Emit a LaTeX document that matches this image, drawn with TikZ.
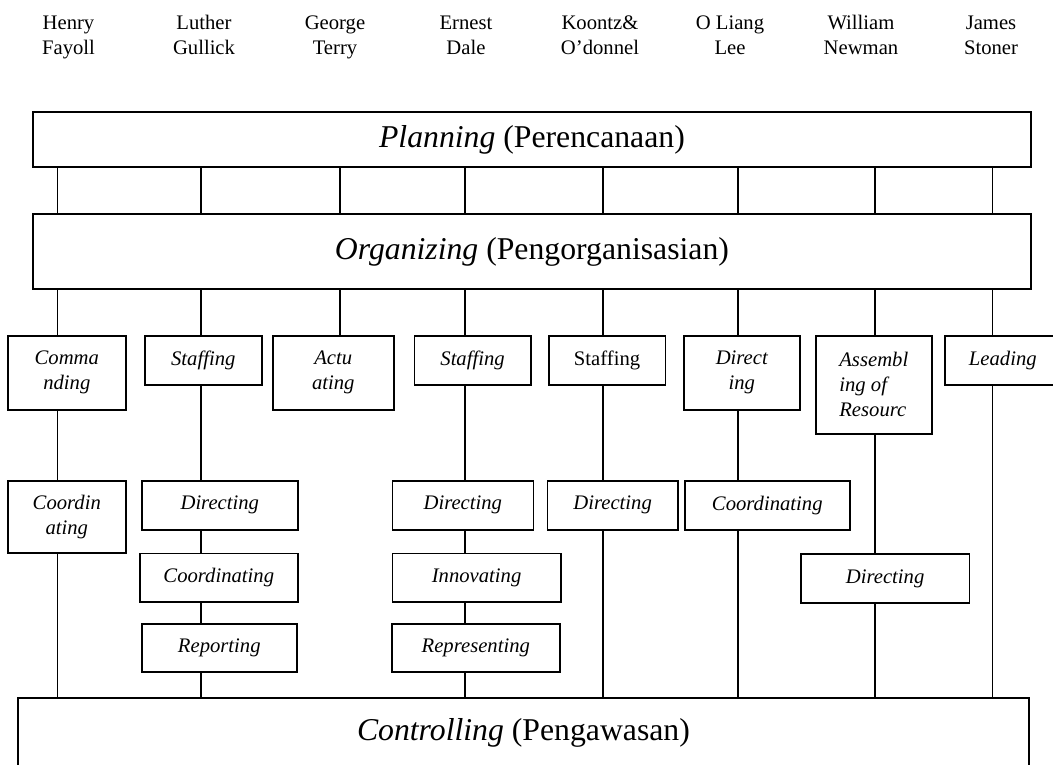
\documentclass[tikz,border=0pt]{standalone}
\usepackage{fontspec}
\setmainfont{Liberation Serif}
\usetikzlibrary{positioning}
\tikzstyle{author} = [align=center, inner sep=0pt, font=\fontsize{15.5}{18.75}\selectfont]
\tikzstyle{phase} = [rectangle, draw, line width=1.4pt, inner sep=0pt, font=\fontsize{23.8}{28}\selectfont]
\tikzstyle{task} = [rectangle, draw, line width=1.2pt, inner sep=0pt, align=center, font=\fontsize{15.5}{18.75}\selectfont\itshape]
\tikzstyle{line} = [draw, line width=1pt]

\begin{document}
\begin{tikzpicture}[x=0.75pt, y=-0.75pt]
        \clip (0,0) rectangle (1053,764);
        % Place authors
        \node at (68.5,54) [author, anchor=base] (fayol) {Henry\\Fayoll};
        \node at (204,54) [author, anchor=base] (gulick) {Luther\\Gullick};
        \node at (335,54) [author, anchor=base] (terry) {George\\Terry};
        \node at (466,54) [author, anchor=base] (dale) {Ernest\\Dale};
        \node at (600,54) [author, anchor=base] (koontz) {Koontz\&\\O'donnel};
        \node at (730,54) [author, anchor=base] (lee) {O Liang\\Lee};
        \node at (861,54) [author, anchor=base] (newman) {William\\Newman};
        \node at (991,54) [author, anchor=base] (stoner) {James\\Stoner};

        % Place main functions
        \node at (32,111) [phase, anchor=north west, minimum width=748.5pt, minimum height=41.25pt] (plan) {\textit{Planning} (Perencanaan)};
        \node at (32,213) [phase, anchor=north west, minimum width=748.5pt, minimum height=56.25pt] (org) {\textit{Organizing} (Pengorganisasian)};
        \node at (17,697) [phase, anchor=north west, minimum width=758.25pt, text height=32.25pt, text depth=24pt] (ctrl) {\textit{Controlling} (Pengawasan)};

        % Columns
        \coordinate (c1) at (57.5,0);
        \coordinate (c2) at (201,0);
        \coordinate (c3) at (340,0);
        \coordinate (c4) at (465,0);
        \coordinate (c5) at (603,0);
        \coordinate (c6) at (738,0);
        \coordinate (c7) at (875,0);
        \coordinate (c8) at (992.5,0);

        % Place tasks
        \node at (7,335) [task, anchor=north west, minimum width=88.5pt, minimum height=55.5pt] (cmd) {Comma\\nding};
        \node at (144,335) [task, anchor=north west, minimum width=87.75pt, minimum height=36.75pt] (stf1) {Staffing};
        \node at (272,335) [task, anchor=north west, minimum width=90.75pt, minimum height=55.5pt] (act) {Actu\\ating};
        \node at (413.5,335) [task, anchor=north west, minimum width=87.4pt, minimum height=36.75pt] (stf2) {Staffing};
        \node at (548,335) [task, anchor=north west, minimum width=87.4pt, minimum height=36.75pt, font=\fontsize{15.5}{18.75}\selectfont] (stf3) {Staffing};
        \node at (683,335) [task, anchor=north west, minimum width=87pt, minimum height=55.5pt] (dir1) {Direct\\ing};
        \node at (815,335) [task, anchor=north west, minimum width=87pt, minimum height=73.5pt, align=left] (asm) {Assembl\\ing of\\Resourc};
        \node at (944,335) [task, anchor=north west, minimum width=87pt, minimum height=36.75pt] (lead) {Leading};

        \node at (7,480) [task, anchor=north west, minimum width=88.5pt, minimum height=54pt] (crd1) {Coordin\\ating};
        \node at (141,480) [task, anchor=north west, minimum width=117pt, minimum height=36.75pt] (dir2) {Directing};
        \node at (391.5,480) [task, anchor=north west, minimum width=105.75pt, minimum height=36.75pt] (dir3) {Directing};
        \node at (546.5,480) [task, anchor=north west, minimum width=98pt, minimum height=36.75pt] (dir4) {Directing};
        \node at (684,480) [task, anchor=north west, minimum width=123.75pt, minimum height=36.75pt] (crd2) {Coordinating};

        \node at (139,552.5) [task, anchor=north west, minimum width=118.5pt, minimum height=36.3pt] (crd3) {Coordinating};
        \node at (391.5,552.5) [task, anchor=north west, minimum width=126.4pt, minimum height=36.3pt] (inn) {Innovating};
        \node at (800,553) [task, anchor=north west, minimum width=126.5pt, minimum height=37pt] (dir5) {Directing};

        \node at (141,623) [task, anchor=north west, minimum width=116.25pt, minimum height=36pt] (rep) {Reporting};
        \node at (391,623) [task, anchor=north west, minimum width=126pt, minimum height=36pt] (rpr) {Representing};

        % Draw edges
        \path [line] (plan.south -| c1) -- (org.north -| c1);
        \path [line] (plan.south -| c2) -- (org.north -| c2);
        \path [line] (plan.south -| c3) -- (org.north -| c3);
        \path [line] (plan.south -| c4) -- (org.north -| c4);
        \path [line] (plan.south -| c5) -- (org.north -| c5);
        \path [line] (plan.south -| c6) -- (org.north -| c6);
        \path [line] (plan.south -| c7) -- (org.north -| c7);
        \path [line] (plan.south -| c8) -- (org.north -| c8);

        \path [line] (org.south -| c1) -- (cmd.north -| c1);
        \path [line] (cmd.south -| c1) -- (crd1.north -| c1);
        \path [line] (crd1.south -| c1) -- (ctrl.north -| c1);

        \path [line] (org.south -| c2) -- (stf1.north -| c2);
        \path [line] (stf1.south -| c2) -- (dir2.north -| c2);
        \path [line] (dir2.south -| c2) -- (crd3.north -| c2);
        \path [line] (crd3.south -| c2) -- (rep.north -| c2);
        \path [line] (rep.south -| c2) -- (ctrl.north -| c2);

        \path [line] (org.south -| c3) -- (act.north -| c3);

        \path [line] (org.south -| c4) -- (stf2.north -| c4);
        \path [line] (stf2.south -| c4) -- (dir3.north -| c4);
        \path [line] (dir3.south -| c4) -- (inn.north -| c4);
        \path [line] (inn.south -| c4) -- (rpr.north -| c4);
        \path [line] (rpr.south -| c4) -- (ctrl.north -| c4);

        \path [line] (org.south -| c5) -- (stf3.north -| c5);
        \path [line] (stf3.south -| c5) -- (dir4.north -| c5);
        \path [line] (dir4.south -| c5) -- (ctrl.north -| c5);

        \path [line] (org.south -| c6) -- (dir1.north -| c6);
        \path [line] (dir1.south -| c6) -- (crd2.north -| c6);
        \path [line] (crd2.south -| c6) -- (ctrl.north -| c6);

        \path [line] (org.south -| c7) -- (asm.north -| c7);
        \path [line] (asm.south -| c7) -- (dir5.north -| c7);
        \path [line] (dir5.south -| c7) -- (ctrl.north -| c7);

        \path [line] (org.south -| c8) -- (lead.north -| c8);
        \path [line] (lead.south -| c8) -- (ctrl.north -| c8);
    \end{tikzpicture}
\end{document}
